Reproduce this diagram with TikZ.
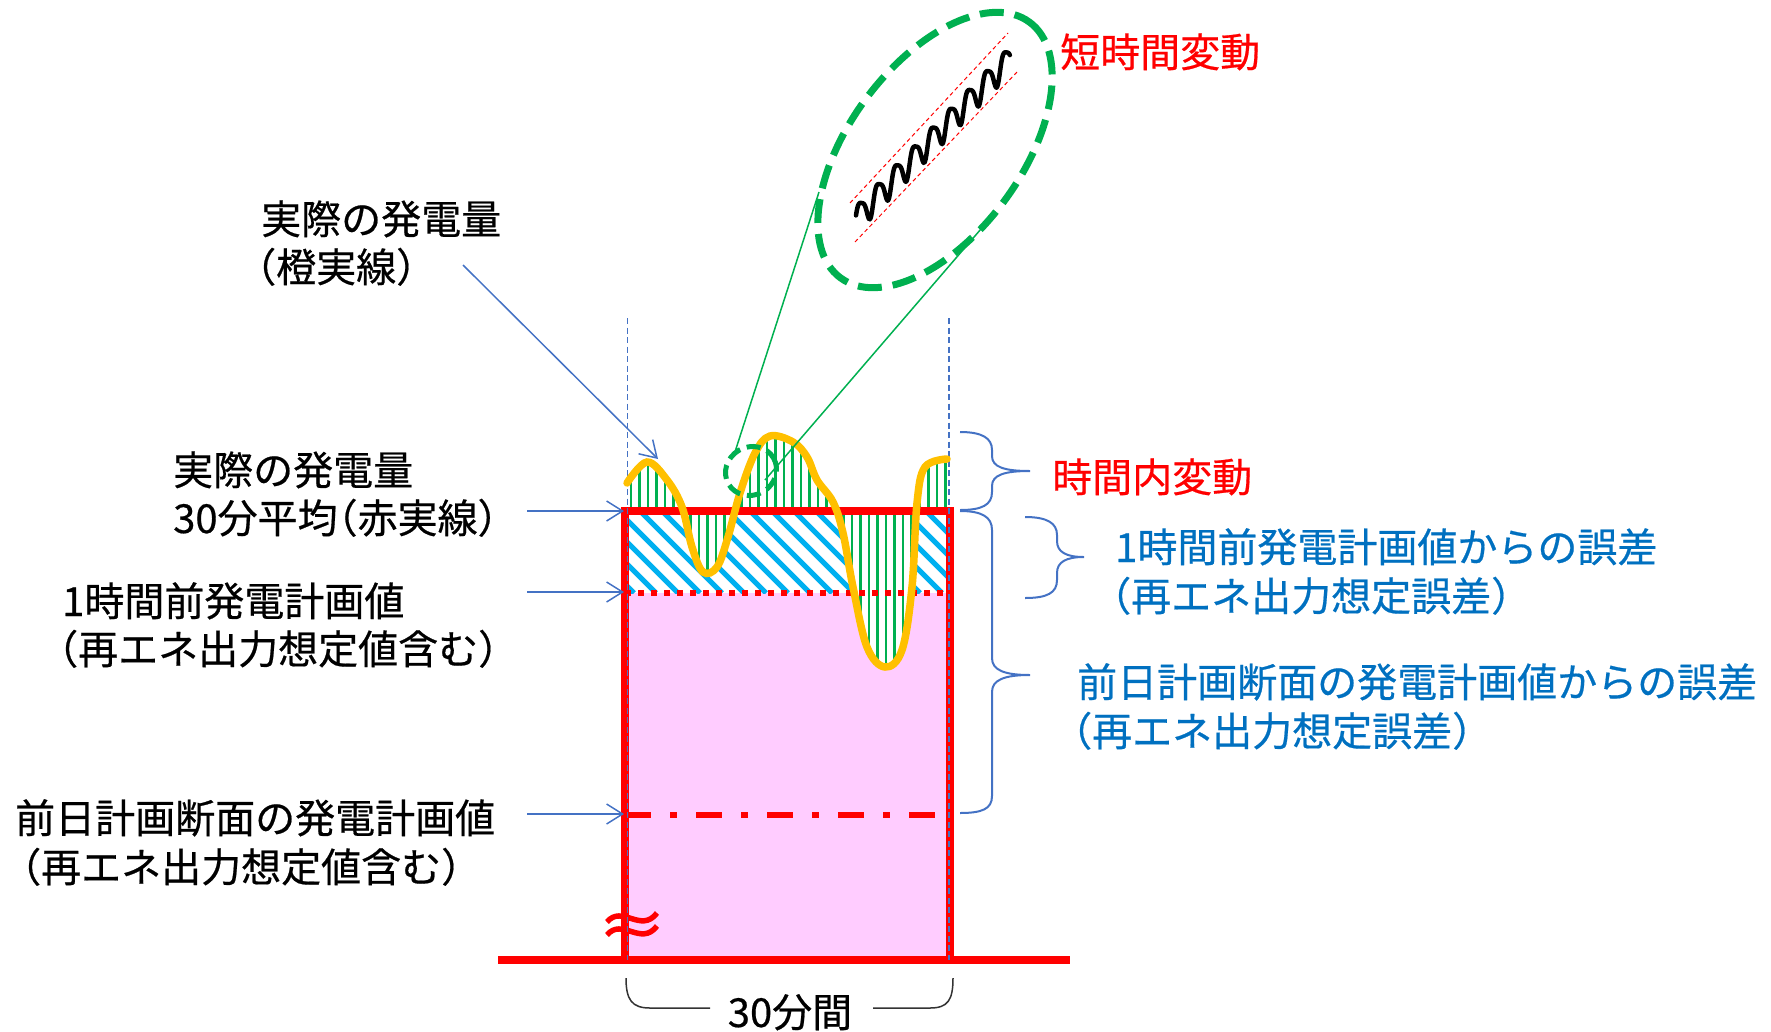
\documentclass[tikz,border=0pt]{standalone}
\usepackage{fontspec}
\setmainfont{Noto Sans CJK JP}[RawFeature=+halt, FakeBold=0.5]
\usetikzlibrary{arrows.meta}
\definecolor{pinkfill}{RGB}{255,204,255}
\definecolor{hatchblue}{RGB}{0,176,240}
\definecolor{grn}{RGB}{0,176,80}
\definecolor{orng}{RGB}{255,192,0}
\definecolor{arrowblue}{RGB}{68,114,196}
\definecolor{textblue}{RGB}{0,112,192}
\tikzset{
  lbl/.style={font=\fontsize{40}{48}\selectfont, inner sep=0pt, anchor=base west},
  lblarrow/.style={arrowblue, line width=1.5pt, -{Straight Barb[length=16pt, width=20pt]}},
  bracestyle/.style={arrowblue, line width=2pt},
  guide/.style={arrowblue, line width=1.3pt, dash pattern=on 6pt off 3.5pt},
  zoomline/.style={grn, line width=1.5pt},
}
\begin{document}
\begin{tikzpicture}[x=1pt,y=-1pt]
\useasboundingbox (0,0) rectangle (1771,1031);
% pink box
\fill[pinkfill] (625,511) rectangle (950,960);
% blue hatch band
\begin{scope}
  \clip (625,511) rectangle (950,593);
  \fill[white] (625,511) rectangle (950,593);
  \foreach \hx in {530,552,...,960} \draw[hatchblue, line width=5pt] (\hx,511) -- ++(82,82);
\end{scope}
% green region between curve and average line
\fill[white] plot[smooth, tension=0.6] coordinates {(627,483) (647,462) (667,480) (682,507) (692,547) (703,572) (717,567) (728,537) (740,493) (755,453) (770,436) (793,442) (807,457) (817,480) (833,502) (843,533) (853,587) (867,647) (885,667) (902,650) (912,587) (917,503) (925,467) (947,459)} -- (947,511) -- (627,511) -- cycle;
\begin{scope}
  \clip plot[smooth, tension=0.6] coordinates {(627,483) (647,462) (667,480) (682,507) (692,547) (703,572) (717,567) (728,537) (740,493) (755,453) (770,436) (793,442) (807,457) (817,480) (833,502) (843,533) (853,587) (867,647) (885,667) (902,650) (912,587) (917,503) (925,467) (947,459)} -- (947,511) -- (627,511) -- cycle;
  \foreach \gx in {631,639.5,...,948} \draw[grn, line width=2.5pt] (\gx,420) -- (\gx,690);
\end{scope}
% dotted line (1 hour ahead plan)
\draw[red, line width=6pt, dash pattern=on 6pt off 7pt] (625,593) -- (950,593);
% dash-dot line (day-ahead plan)
\draw[red, line width=6.5pt, dash pattern=on 26pt off 19.3pt on 6.7pt off 19pt] (625,815) -- (950,815);
% red box and axis
\draw[red, line width=8pt] (625,960) -- (625,511) -- (950,511) -- (950,960);
\draw[red, line width=8pt] (498,960) -- (1070,960);
% break mark
\draw[red, line width=5.5pt] (607,922) .. controls (622,904) and (641,934) .. (657,913);
\draw[red, line width=5.5pt] (607,935) .. controls (622,917) and (641,947) .. (657,926);
% guide dashed lines
\coordinate (gl1) at (627.5,318); \coordinate (gl2) at (627.5,960);
\coordinate (gr1) at (949,318); \coordinate (gr2) at (949,960);
\draw[guide] (gl1) -- (gl2);
\draw[guide] (gr1) -- (gr2);
% orange actual output curve
\draw[orng, line width=7.5pt, line cap=round] plot[smooth, tension=0.6] coordinates {(627,483) (647,462) (667,480) (682,507) (692,547) (703,572) (717,567) (728,537) (740,493) (755,453) (770,436) (793,442) (807,457) (817,480) (833,502) (843,533) (853,587) (867,647) (885,667) (902,650) (912,587) (917,503) (925,467) (947,459)};
% small zoom ellipse
\draw[grn, line width=5pt, dash pattern=on 14pt off 7pt, shift={(751,471)}, rotate=30] (0,0) ellipse [x radius=26, y radius=24];
% zoom lines
\coordinate (zs1) at (733,458); \coordinate (zb1) at (819,192);
\coordinate (zs2) at (765,480); \coordinate (zb2) at (993,215);
\draw[zoomline] (zs1) -- (zb1);
\draw[zoomline] (zs2) -- (zb2);
% big ellipse
\draw[grn, line width=7pt, dash pattern=on 24pt off 11pt, shift={(935,150)}, rotate=53.5] (0,0) ellipse [x radius=159, y radius=86];
% short-time fluctuation
\draw[red, line width=1pt, dash pattern=on 4pt off 3pt] (850,203) -- (1008,33);
\draw[red, line width=1pt, dash pattern=on 4pt off 3pt] (855,242) -- (1017,72);
\draw[black, line width=4.5pt, line join=round, line cap=round] plot[domain=0:1, samples=220, smooth] ({856+154*\x}, {218-160*\x-13*sin(8.5*360*\x)-3*sin(17*360*\x+60)});
% texts left
\node[lbl] (t1a) at (261,234) {実際の発電量};
\node[lbl] (t1b) at (256,282) {（橙実線）};
\node[lbl] (t2a) at (173,485) {実際の発電量};
\node[lbl] (t2b) at (173,533) {30分平均（赤実線）};
\node[lbl] (t3a) at (62,616) {1時間前発電計画値};
\node[lbl] (t3b) at (58,664) {（再エネ出力想定値含む）};
\node[lbl] (t4a) at (15,833) {前日計画断面の発電計画値};
\node[lbl] (t4b) at (21,882) {（再エネ出力想定値含む）};
% texts right
\node[lbl, text=red] (t5) at (1060,67) {短時間変動};
\node[lbl, text=red] (t6) at (1052,492) {時間内変動};
\node[lbl, text=textblue] (t7a) at (1115,562) {1時間前発電計画値からの誤差};
\node[lbl, text=textblue] (t7b) at (1111,611) {（再エネ出力想定誤差）};
\node[lbl, text=textblue] (t8a) at (1077,697) {前日計画断面の発電計画値からの誤差};
\node[lbl, text=textblue] (t8b) at (1072,746) {（再エネ出力想定誤差）};
\node[lbl, anchor=base] (t9) at (790,1027) {30分間};
% arrows
\coordinate (a1s) at (463,265); \coordinate (a1e) at (658,459);
\coordinate (a2s) at (527,511); \coordinate (a2e) at (624,511);
\coordinate (a3s) at (527,592); \coordinate (a3e) at (624,592);
\coordinate (a4s) at (527,814); \coordinate (a4e) at (624,814);
\draw[lblarrow] (a1s) -- (a1e);
\draw[lblarrow] (a2s) -- (a2e);
\draw[lblarrow] (a3s) -- (a3e);
\draw[lblarrow] (a4s) -- (a4e);
% braces
\draw[bracestyle] (960,432) .. controls (982,432) and (992,438) .. (992,450) -- (992,456) .. controls (992,467) and (1004,471) .. (1030,471)
  .. controls (1004,471) and (992,475) .. (992,486) -- (992,492) .. controls (992,505) and (982,510) .. (960,510);
\draw[bracestyle] (960,511) .. controls (982,511) and (992,517) .. (992,530) -- (992,658) .. controls (992,670) and (1004,675) .. (1030,675)
  .. controls (1004,675) and (992,680) .. (992,692) -- (992,796) .. controls (992,809) and (982,813) .. (960,813);
\draw[bracestyle] (1025,517) .. controls (1047,517) and (1057,523) .. (1057,535) -- (1057,541) .. controls (1057,552) and (1066,557) .. (1084,557)
  .. controls (1066,557) and (1057,562) .. (1057,573) -- (1057,580) .. controls (1057,593) and (1047,598) .. (1025,598);
\draw[black!80, line width=1.5pt] (626,978) .. controls (626,1000) and (632,1008) .. (650,1008) -- (710,1008);
\draw[black!80, line width=1.5pt] (873,1008) -- (930,1008) .. controls (948,1008) and (953,1000) .. (953,978);
\end{tikzpicture}
\end{document}
